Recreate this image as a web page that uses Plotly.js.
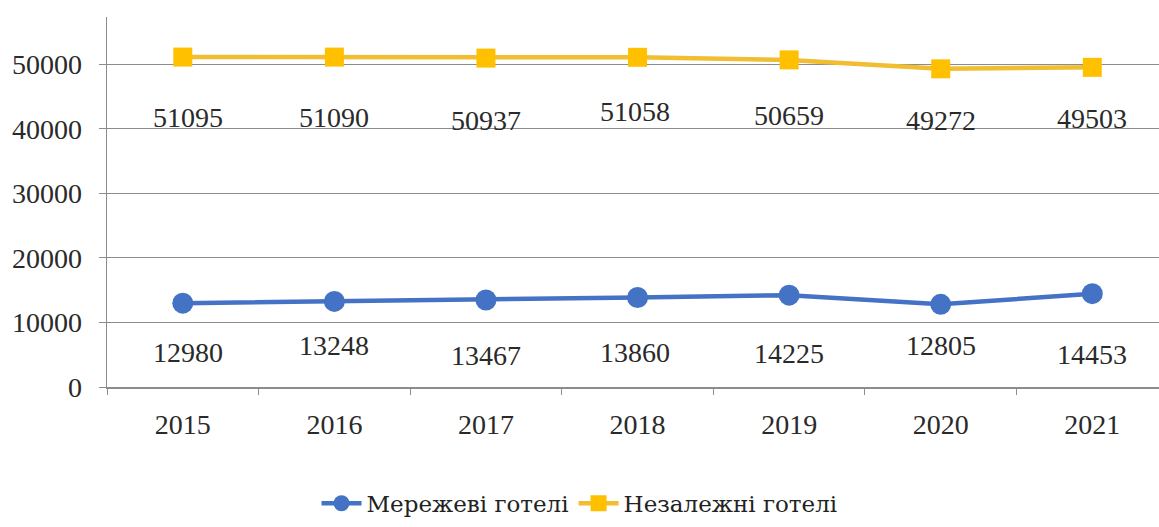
<!DOCTYPE html>
<html>
<head>
<meta charset="utf-8">
<script src="https://cdn.plot.ly/plotly-3.0.1.min.js"></script>
<style>html,body{margin:0;padding:0;background:#fff;}#chart{width:1159px;height:527px;}</style>
</head>
<body>
<div id="chart"></div>
<script>
const years = ['2015','2016','2017','2018','2019','2020','2021'];
const chainHotels = [12980, 13248, 13467, 13860, 14225, 12805, 14453];
const independentHotels = [51095, 51090, 50937, 51058, 50659, 49272, 49503];
const chainName = 'Мережеві готелі';
const independentName = 'Незалежні готелі';

// label pixel offsets (style)
const chainShift = [-49, -44, -55, -55, -58, -41, -61];
const indepShift = [-60, -60, -62, -54, -56, -52, -51];
const labelXShift = [5, 0, 0, -3, 0, 0, 0];

const FONT = 'Liberation Serif, Times New Roman, serif';
const LFONT = 'DejaVu Serif, Liberation Serif, serif';
const blue = '#4472C4';
const yellow = '#FFC000';

const traces = [
  {x: years, y: chainHotels, name: chainName, type: 'scatter', mode: 'lines+markers',
   line: {color: blue, width: 4.5}, marker: {symbol: 'circle', size: 21, color: blue}},
  {x: years, y: independentHotels, name: independentName, type: 'scatter', mode: 'lines+markers',
   line: {color: '#F0BE30', width: 4.5}, marker: {symbol: 'square', size: 19, color: yellow}}
];

const annotations = [];
years.forEach((yr, i) => {
  annotations.push({xref: 'x', yref: 'y', x: i, y: chainHotels[i], text: String(chainHotels[i]), showarrow: false,
    yshift: chainShift[i], xshift: labelXShift[i], font: {family: FONT, size: 28, color: '#2a2a2a'}});
  annotations.push({xref: 'x', yref: 'y', x: i, y: independentHotels[i], text: String(independentHotels[i]), showarrow: false,
    yshift: indepShift[i], xshift: labelXShift[i], font: {family: FONT, size: 28, color: '#2a2a2a'}});
});

const layout = {
  width: 1159, height: 527,
  margin: {l: 107, r: 0, t: 17, b: 140},
  paper_bgcolor: '#fff', plot_bgcolor: '#fff',
  showlegend: true,
  legend: {orientation: 'h', xref: 'container', yref: 'container', x: 0.5, xanchor: 'center',
    y: 0.045, yanchor: 'middle', font: {family: LFONT, size: 23, color: '#222'}, itemwidth: 40},
  xaxis: {type: 'category', range: [-0.5, 6.44], showgrid: false, zeroline: false,
    showline: true, linecolor: '#8c8c8c', linewidth: 1.5,
    ticks: 'outside', tickson: 'boundaries', ticklen: 6, tickcolor: '#8c8c8c',
    tickfont: {family: FONT, size: 28, color: '#2a2a2a'}, ticklabelstandoff: 12},
  yaxis: {range: [0, 57300], dtick: 10000, tick0: 0, tickformat: 'd', showgrid: true, gridcolor: '#8c8c8c', gridwidth: 1.2,
    zeroline: false, showline: true, linecolor: '#8c8c8c', linewidth: 1.5,
    ticks: 'outside', ticklen: 7, tickcolor: '#8c8c8c',
    tickfont: {family: FONT, size: 28, color: '#2a2a2a'}, ticklabelstandoff: 11},
  annotations: annotations
};

Plotly.newPlot('chart', traces, layout, {displayModeBar: false, staticPlot: true});
</script>
</body>
</html>
